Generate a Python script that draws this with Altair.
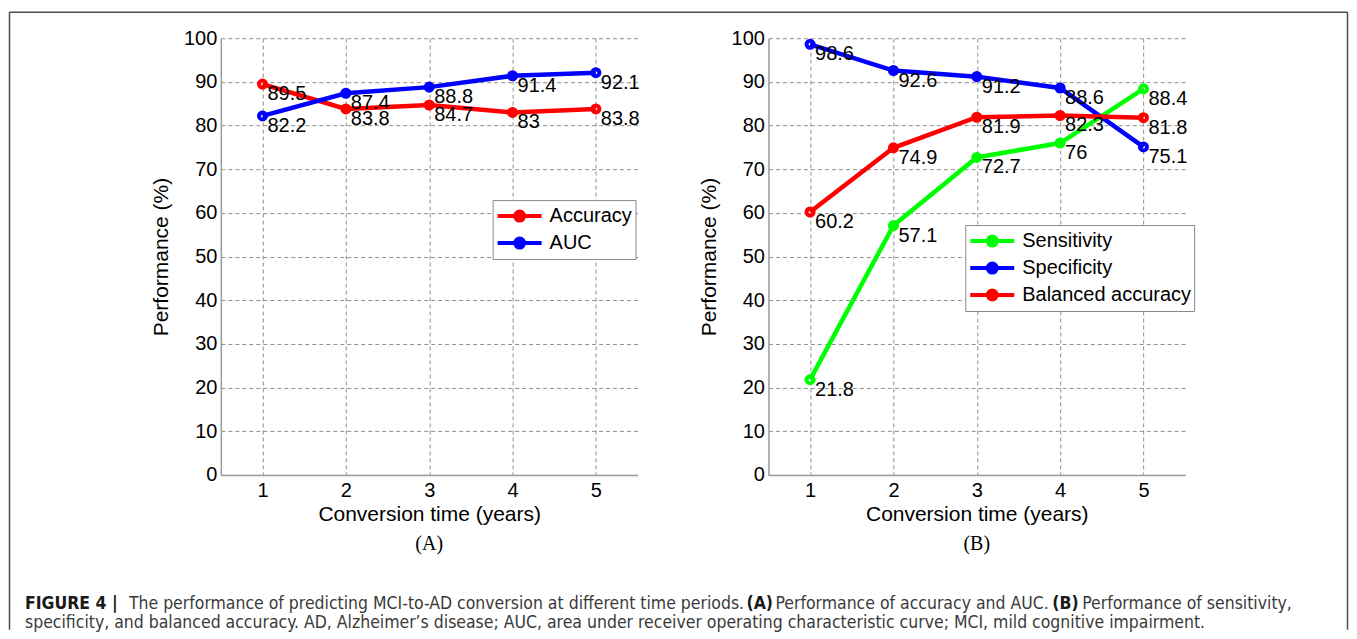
import altair as alt
import pandas as pd

# ---------------- data ----------------
years = [1, 2, 3, 4, 5]

series_a = ["Accuracy", "AUC"]
accuracy = [89.5, 83.8, 84.7, 83, 83.8]
auc = [82.2, 87.4, 88.8, 91.4, 92.1]
colors_a = ["#ff0000", "#0000ff"]

series_b = ["Sensitivity", "Specificity", "Balanced accuracy"]
sensitivity = [21.8, 57.1, 72.7, 76, 88.4]
specificity = [98.6, 92.6, 91.2, 88.6, 75.1]
balanced = [60.2, 74.9, 81.9, 82.3, 81.8]
colors_b = ["#00ff00", "#0000ff", "#ff0000"]

y_ticks = list(range(0, 101, 10))

cap_bold_1 = "FIGURE 4 |"
cap_text_1 = "The performance of predicting MCI-to-AD conversion at different time periods."
cap_bold_a = "(A)"
cap_text_a = "Performance of accuracy and AUC."
cap_bold_b = "(B)"
cap_text_b = "Performance of sensitivity,"
cap_line_2 = ("specificity, and balanced accuracy. AD, Alzheimer\u2019s disease; AUC, area under "
              "receiver operating characteristic curve; MCI, mild cognitive impairment.")

SANS = "Liberation Sans, Arial, sans-serif"
NARROW = "DejaVu Sans Condensed, Liberation Sans Narrow, sans-serif"
SERIF = "Liberation Serif, Times New Roman, serif"

W, H = 417, 437

# legend symbol: line with a filled circle in the middle
LEG_PATH = ("M-1,0L3,0"
            "M0.59,0A0.41,0.41,0,1,1,1.41,0A0.41,0.41,0,1,1,0.59,0"
            "M0.82,0A0.18,0.18,0,1,1,1.18,0A0.18,0.18,0,1,1,0.82,0")

one = pd.DataFrame({"k": [0]})


def long_df(names, lists):
    rows = []
    for n, vals in zip(names, lists):
        for x, v in zip(years, vals):
            rows.append({"year": x, "value": v, "series": n, "label": f"{v:g}"})
    return pd.DataFrame(rows)


def panel(df, names, colors, title, lx, ly, extra=()):
    x = alt.X("year:Q",
              scale=alt.Scale(domain=[0.5, 5.5], nice=False, zero=False),
              axis=alt.Axis(values=years, format="d", title="Conversion time (years)",
                            labelPadding=6, titlePadding=3))
    y = alt.Y("value:Q",
              scale=alt.Scale(domain=[0, 100], nice=False),
              axis=alt.Axis(values=y_ticks, title="Performance (%)",
                            labelPadding=4, titlePadding=12))
    color = alt.Color("series:N",
                      scale=alt.Scale(domain=names, range=colors),
                      sort=names, title=None,
                      legend=alt.Legend(orient="none", legendX=lx, legendY=ly,
                                        symbolType=LEG_PATH, symbolSize=484,
                                        symbolStrokeWidth=4, symbolOpacity=1,
                                        symbolFillColor="transparent",
                                        labelOffset=28, padding=3, rowPadding=1,
                                        strokeColor="#8a8a8a", fillColor="white",
                                        labelFontSize=20, labelFont=SANS,
                                        labelColor="black", labelLimit=400))
    base = alt.Chart(df).encode(x=x, y=y, color=color)
    line = base.mark_line(strokeWidth=4.5, opacity=1)
    pts = base.mark_point(filled=False, size=50, strokeWidth=4, opacity=1)
    txt = alt.Chart(df).mark_text(align="left", baseline="middle", dx=5, dy=10,
                                  fontSize=20, font=SANS, color="black").encode(
        x=x, y=y, text="label:N")
    sub = alt.Chart(one).mark_text(align="center", baseline="middle", font=SERIF,
                                   fontSize=20, color="black").encode(
        x=alt.value(W / 2), y=alt.value(506), text=alt.value(title))
    return alt.layer(line, pts, txt, sub, *extra).properties(width=W, height=H)


BL, BT, BR, BB = -211.5, -26, 1127.5, 592
border_col = "#4d4d4d"
border = [
    alt.Chart(one).mark_rule(color=border_col, strokeWidth=1.5).encode(
        x=alt.value(BL), y=alt.value(BT), y2=alt.value(BB)),
    alt.Chart(one).mark_rule(color=border_col, strokeWidth=1.5).encode(
        x=alt.value(BL), x2=alt.value(BR), y=alt.value(BT)),
    alt.Chart(one).mark_rule(color=border_col, strokeWidth=1.5).encode(
        x=alt.value(BR), y=alt.value(BT), y2=alt.value(BB)),
]

CAP_FS = 17.5


def cap(text, xpos, ypos, bold=False):
    return alt.Chart(one).mark_text(
        align="left", baseline="alphabetic", font=NARROW, fontSize=CAP_FS,
        fontWeight="bold" if bold else "normal",
        color="#1a1a1a" if bold else "#3a3a3a").encode(
        x=alt.value(xpos), y=alt.value(ypos), text=alt.value(text))


Y1, Y2 = 571, 590
caption = [
    cap(cap_bold_1, -196, Y1, True),
    cap(cap_text_1, -92, Y1),
    cap(cap_bold_a, 526, Y1, True),
    cap(cap_text_a, 555, Y1),
    cap(cap_bold_b, 832, Y1, True),
    cap(cap_text_b, 862, Y1),
    cap(cap_line_2, -196, Y2),
]

left = panel(long_df(series_a, [accuracy, auc]), series_a, colors_a, "(A)", 272, 162,
             extra=border + caption)
right = panel(long_df(series_b, [sensitivity, specificity, balanced]), series_b, colors_b,
              "(B)", 197, 187)

chart = alt.hconcat(left, right, spacing=131, bounds="flush").resolve_scale(
    color="independent", x="independent", y="independent"
).properties(
    padding={"left": 0, "top": 2, "right": 0, "bottom": 0}
).configure(font=SANS).configure_axis(
    labelFont=SANS, labelFontSize=20, labelColor="black",
    titleFont=SANS, titleFontSize=21, titleFontWeight="normal", titleColor="black",
    gridDash=[4, 3], gridColor="#8f8f8f", gridWidth=1, gridOpacity=1,
    domainColor="#9a9a9a", domainWidth=1.5, ticks=False
).configure_view(stroke="transparent")

chart.save("out.html", embed_options={"renderer": "svg", "actions": False})
